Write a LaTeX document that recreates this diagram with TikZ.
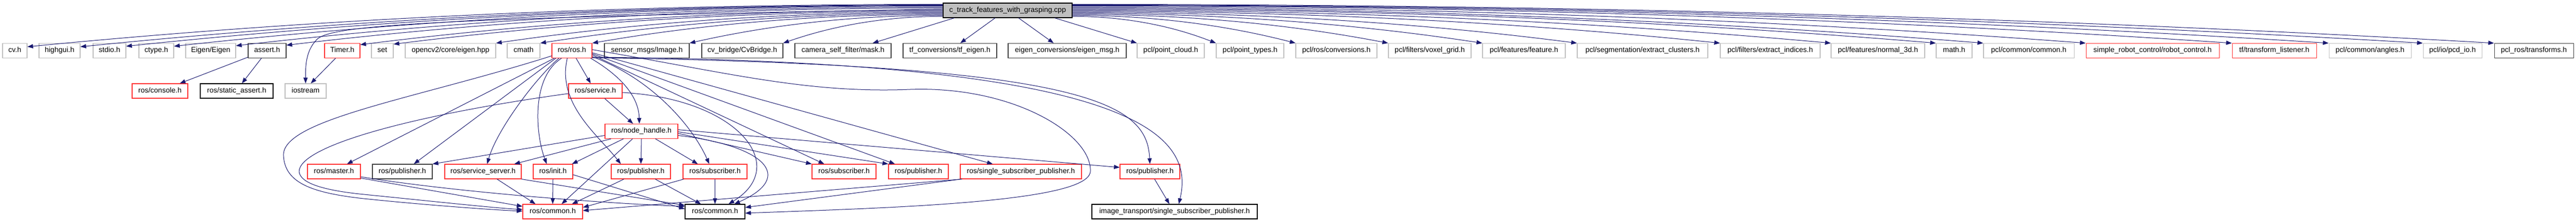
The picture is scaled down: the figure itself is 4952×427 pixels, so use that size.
\documentclass[tikz,border=0pt]{standalone}
\usepackage{fontspec}
\setmainfont{Liberation Sans}
\usetikzlibrary{arrows.meta,calc}
\definecolor{edgec}{HTML}{191970}
\definecolor{greyb}{HTML}{BFBFBF}
\definecolor{darkb}{HTML}{404040}
\definecolor{redb}{HTML}{FF3333}
\begin{document}
\begin{tikzpicture}[x=1pt,y=-1pt,font=\fontsize{14}{16}\selectfont,
  nbox/.style={draw,rectangle,minimum height=28pt,inner sep=0pt,line width=1.1pt,text height=10pt,text depth=3pt,fill=white},
  gbox/.style={nbox,draw=greyb},
  dbox/.style={nbox,draw=darkb},
  bbox/.style={nbox,draw=black},
  rbox/.style={nbox,draw=redb},
  arr/.style={draw=edgec,line width=1pt,-{Triangle[length=11pt,width=8pt]}}]
\fill[white] (0,0) rectangle (4952,427);
\useasboundingbox (0,0) rectangle (4952,427);
% root
\node[nbox,fill=greyb,draw=black,minimum width=248pt] (root) at (1937,20) {c\_track\_features\_with\_grasping.cpp};
% row 1
\node[gbox,minimum width=47pt] (cvh) at (28.5,97.5) {cv.h};
\node[gbox,minimum width=79pt] (highgui) at (114.5,97.5) {highgui.h};
\node[gbox,minimum width=63pt] (stdio) at (210.5,97.5) {stdio.h};
\node[gbox,minimum width=67pt] (ctype) at (300.5,97.5) {ctype.h};
\node[gbox,minimum width=96pt] (eigen) at (405,97.5) {Eigen/Eigen};
\node[dbox,minimum width=73pt] (assert) at (513.5,97.5) {assert.h};
\node[rbox,minimum width=68pt] (timer) at (658,97.5) {Timer.h};
\node[gbox,minimum width=42pt] (set) at (735,97.5) {set};
\node[gbox,minimum width=174pt] (cveigen) at (866,97.5) {opencv2/core/eigen.hpp};
\node[gbox,minimum width=63pt] (cmath) at (1006.5,97.5) {cmath};
\node[rbox,minimum width=77pt] (rosros) at (1099.5,97.5) {ros/ros.h};
\node[dbox,minimum width=163pt] (sensor) at (1243.5,97.5) {sensor\_msgs/Image.h};
\node[dbox,minimum width=156pt] (cvbridge) at (1427,97.5) {cv\_bridge/CvBridge.h};
\node[dbox,minimum width=185pt] (mask) at (1620.5,97.5) {camera\_self\_filter/mask.h};
\node[dbox,minimum width=180pt] (tfeigen) at (1826,97.5) {tf\_conversions/tf\_eigen.h};
\node[dbox,minimum width=227pt] (eigenmsg) at (2051.5,97.5) {eigen\_conversions/eigen\_msg.h};
\node[gbox,minimum width=129pt] (pointcloud) at (2250.5,97.5) {pcl/point\_cloud.h};
\node[gbox,minimum width=130pt] (pointtypes) at (2403,97.5) {pcl/point\_types.h};
\node[gbox,minimum width=156pt] (conversions) at (2569,97.5) {pcl/ros/conversions.h};
\node[gbox,minimum width=159pt] (voxel) at (2748.5,97.5) {pcl/filters/voxel\_grid.h};
\node[gbox,minimum width=159pt] (feature) at (2929.5,97.5) {pcl/features/feature.h};
\node[gbox,minimum width=251pt] (clusters) at (3157.5,97.5) {pcl/segmentation/extract\_clusters.h};
\node[gbox,minimum width=192pt] (indices) at (3403,97.5) {pcl/filters/extract\_indices.h};
\node[gbox,minimum width=180pt] (normal) at (3610,97.5) {pcl/features/normal\_3d.h};
\node[gbox,minimum width=69pt] (math) at (3756.5,97.5) {math.h};
\node[gbox,minimum width=174pt] (common) at (3900,97.5) {pcl/common/common.h};
\node[rbox,minimum width=256pt] (robot) at (4138,97.5) {simple\_robot\_control/robot\_control.h};
\node[rbox,minimum width=162pt] (listener) at (4372,97.5) {tf/transform\_listener.h};
\node[gbox,minimum width=158pt] (angles) at (4556,97.5) {pcl/common/angles.h};
\node[gbox,minimum width=113pt] (pcdio) at (4714.5,97.5) {pcl/io/pcd\_io.h};
\node[dbox,minimum width=152pt] (transforms) at (4871,97.5) {pcl\_ros/transforms.h};
% row 2
\node[rbox,minimum width=107pt] (console) at (307.5,175) {ros/console.h};
\node[bbox,minimum width=140pt] (staticassert) at (455,175) {ros/static\_assert.h};
\node[gbox,minimum width=79pt] (iostream) at (587.5,175) {iostream};
\node[rbox,minimum width=103pt] (service) at (1144.5,175) {ros/service.h};
% row 3
\node[rbox,minimum width=140pt] (nodehandle) at (1233,252.5) {ros/node\_handle.h};
% row 4
\node[rbox,minimum width=102pt] (master) at (642,330) {ros/master.h};
\node[dbox,minimum width=115pt] (pubdark) at (773.5,330) {ros/publisher.h};
\node[rbox,minimum width=147pt] (servsrv) at (928.5,330) {ros/service\_server.h};
\node[rbox,minimum width=76pt] (init) at (1063,330) {ros/init.h};
\node[rbox,minimum width=114pt] (pub1) at (1232,330) {ros/publisher.h};
\node[rbox,minimum width=123pt] (sub1) at (1374.5,330) {ros/subscriber.h};
\node[rbox,minimum width=123pt] (sub2) at (1622.5,330) {ros/subscriber.h};
\node[rbox,minimum width=115pt] (pub2) at (1765.5,330) {ros/publisher.h};
\node[rbox,minimum width=233pt] (ssp) at (1962.5,330) {ros/single\_subscriber\_publisher.h};
\node[rbox,minimum width=115pt] (pub3) at (2210.5,330) {ros/publisher.h};
% row 5
\node[rbox,minimum width=115pt] (commonred) at (1062.5,407) {ros/common.h};
\node[bbox,minimum width=115pt] (commonblk) at (1374.5,407) {ros/common.h};
\node[bbox,minimum width=318pt] (imgtrans) at (2258,407) {image\_transport/single\_subscriber\_publisher.h};

% root -> left row 1
\draw[arr] ($(root.north west)+(0,3)$) .. controls +(-587,0) and +(587,-57) .. ($(cvh.north east)+(0,7)$);
\draw[arr] ($(root.north west)+(0,4)$) .. controls +(-553,0) and +(553,-56) .. ($(highgui.north east)+(0,7)$);
\draw[arr] ($(root.north west)+(0,5)$) .. controls +(-524,0) and +(524,-55) .. ($(stdio.north east)+(0,6)$);
\draw[arr] ($(root.north west)+(0,6)$) .. controls +(-493,0) and +(493,-54) .. ($(ctype.north east)+(0,6)$);
\draw[arr] ($(root.north west)+(0,8)$) .. controls +(-453,0) and +(453,-52) .. ($(eigen.north east)+(0,5)$);
\draw[arr] ($(root.north west)+(0,10)$) .. controls +(-421,0) and +(421,-50) .. ($(assert.north east)+(0,4)$);
\draw[arr] ($(root.north west)+(0,12)$) .. controls (800,35) and (640,50) .. (610,75) .. controls (590,95) and (587,120) .. (iostream.north);
\draw[arr] ($(root.north west)+(0,14)$) .. controls +(-374,0) and +(374,-47) .. ($(timer.north east)+(0,3)$);
\draw[arr] ($(root.north west)+(0,16)$) .. controls +(-352,0) and +(352,-44) .. ($(set.north east)+(0,2)$);
\draw[arr] ($(root.north west)+(0,18)$) .. controls +(-287,0) and +(287,-42) .. (cveigen.north east);
\draw[arr] ($(root.north west)+(0,20)$) .. controls +(-258,0) and +(258,-40) .. (cmath.north east);
\draw[arr] ($(root.north west)+(0,22)$) .. controls +(-225,0) and +(225,-39) .. (rosros.north east);
\draw[arr] ($(root.north west)+(0,24)$) .. controls +(-163,0) and +(163,-37) .. (sensor.north east);
\draw[arr] ($(root.north west)+(0,26)$) .. controls +(-103,0) and +(103,-36) .. (cvbridge.north east);
\draw[arr] ($(root.south west)+(22,0)$) -- ($(mask.north east)+(-36,0)$);
\draw[arr] ($(root.south)+(-24,0)$) -- ($(tfeigen.north)+(20,0)$);
\draw[arr] ($(root.south)+(21,0)$) -- ($(eigenmsg.north)+(-26,0)$);
% root -> right row 1
\draw[arr] ($(root.south east)+(-34,0)$) -- (pointcloud.north west);
\draw[arr] ($(root.north east)+(0,26)$) .. controls +(92,0) and +(-92,-36) .. (pointtypes.north west);
\draw[arr] ($(root.north east)+(0,24)$) .. controls +(143,0) and +(-143,-37) .. (conversions.north west);
\draw[arr] ($(root.north east)+(0,22)$) .. controls +(203,0) and +(-203,-39) .. (voxel.north west);
\draw[arr] ($(root.north east)+(0,20)$) .. controls +(263,0) and +(-263,-40) .. (feature.north west);
\draw[arr] ($(root.north east)+(0,18)$) .. controls +(324,0) and +(-324,-42) .. (clusters.north west);
\draw[arr] ($(root.north east)+(0,16)$) .. controls +(415,0) and +(-415,-43) .. (indices.north west);
\draw[arr] ($(root.north east)+(0,14)$) .. controls +(486,0) and +(-486,-44) .. (normal.north west);
\draw[arr] ($(root.north east)+(0,12)$) .. controls +(554,0) and +(-554,-46) .. (math.north west);
\draw[arr] ($(root.north east)+(0,10)$) .. controls +(584,0) and +(-584,-47) .. (common.north west);
\draw[arr] ($(root.north east)+(0,8)$) .. controls +(650,0) and +(-650,-49) .. (robot.north west);
\draw[arr] ($(root.north east)+(0,6)$) .. controls +(743,0) and +(-743,-50) .. (listener.north west);
\draw[arr] ($(root.north east)+(0,5)$) .. controls +(805,0) and +(-805,-51) .. (angles.north west);
\draw[arr] ($(root.north east)+(0,4)$) .. controls +(866,0) and +(-866,-51) .. (pcdio.north west);
\draw[arr] ($(root.north east)+(0,3)$) .. controls +(911,0) and +(-911,-52) .. (transforms.north west);
% assert, timer
\draw[arr] ($(assert.south west)+(0,-2)$) -- ($(console.north east)+(-16,0)$);
\draw[arr] ($(assert.south)+(-11,0)$) -- ($(staticassert.north)+(10,0)$);
\draw[arr] ($(timer.south)+(-13,0)$) -- ($(iostream.north)+(10,0)$);
% ros/ros.h
\draw[arr] ($(rosros.south west)+(5,0)$) -- ($(master.north)+(25,0)$);
\draw[arr] ($(rosros.south west)+(8,0)$) -- ($(pubdark.north)+(22,0)$);
\draw[arr] ($(rosros.south west)+(14,0)$) .. controls (1030,150) and (955,250) .. ($(servsrv.north)+(8,0)$);
\draw[arr] ($(rosros.south west)+(19,0)$) .. controls (1020,150) and (1030,260) .. ($(init.north)+(-12,0)$);
\draw[arr] ($(rosros.south)+(8,0)$) -- ($(service.north)+(-9,0)$);
\draw[arr] ($(rosros.south west)+(30,0)$) .. controls (1070,200) and (1150,260) .. ($(pub1.north west)+(19,0)$);
\draw[arr] ($(rosros.south east)+(-3,0)$) .. controls (1200,150) and (1228,190) .. ($(nodehandle.north)+(-4,0)$);
\draw[arr] ($(rosros.south east)+(0,-3)$) .. controls (1250,150) and (1330,240) .. ($(sub1.north)+(-11,0)$);
\draw[arr] ($(rosros.east)+(0,8)$) -- ($(sub2.north west)+(24,0)$);
\draw[arr] ($(rosros.east)+(0,6)$) -- ($(pub2.north west)+(13,0)$);
\draw[arr] ($(rosros.east)+(0,4)$) -- ($(ssp.north west)+(63,0)$);
\draw[arr] ($(rosros.south east)+(0,-1)$) .. controls (2100,125) and (2205,200) .. (pub3.north);
\draw[arr] ($(rosros.south east)+(0,-2)$) .. controls (2160,118) and (2300,250) .. ($(imgtrans.north)+(8,0)$);
\draw[arr] ($(rosros.west)+(0,10)$) .. controls (800,190) and (540,230) .. (545,300) .. controls (548,352) and (600,370) .. (690,381) .. controls (800,393) and (950,404) .. ($(commonred.west)+(0,-1)$);
\draw[arr] ($(rosros.east)+(0,-2)$) .. controls (1400,140) and (1550,180) .. (1750,172) .. controls (1950,165) and (2100,260) .. (2096,330) .. controls (2092,390) and (1700,400) .. ($(commonblk.east)+(0,3)$);
% ros/service.h
\draw[arr] ($(service.south)+(18,0)$) -- ($(nodehandle.north)+(-16,0)$);
\draw[arr] ($(service.west)+(0,5)$) .. controls (800,220) and (575,280) .. (575,330) .. controls (577,352) and (620,366) .. (700,374) .. controls (820,386) and (950,400) .. ($(commonred.west)+(0,-4)$);
\draw[arr] ($(service.east)+(0,3)$) .. controls (1420,190) and (1520,320) .. ($(commonblk.north)+(26,0)$);
% ros/node_handle.h
\draw[arr] ($(nodehandle.south west)+(12,0)$) -- ($(servsrv.north east)+(-14,0)$);
\draw[arr] ($(nodehandle.west)+(0,8)$) -- (pubdark.north east);
\draw[arr] ($(nodehandle.south west)+(36,0)$) -- ($(init.north east)+(-2,0)$);
\draw[arr] ($(nodehandle.south)+(-17,0)$) -- ($(commonred.north)+(17,0)$);
\draw[arr] (nodehandle.south) -- (pub1.north);
\draw[arr] ($(nodehandle.south)+(27,0)$) -- ($(sub1.north)+(-33,0)$);
\draw[arr] ($(nodehandle.east)+(0,8)$) .. controls (1470,280) and (1530,340) .. ($(commonblk.north)+(37,0)$);
\draw[arr] ($(nodehandle.east)+(0,4)$) -- (sub2.north west);
\draw[arr] ($(nodehandle.east)+(0,1)$) -- (pub2.north west);
\draw[arr] ($(nodehandle.east)+(0,-3)$) -- ($(pub3.west)+(0,-8)$);
% row 4 -> row 5
\draw[arr] ($(master.south east)+(0,-2)$) -- ($(commonred.west)+(0,-10)$);
\draw[arr] ($(master.east)+(0,10)$) .. controls +(150,25) and +(-200,-8) .. ($(commonblk.west)+(0,-10)$);
\draw[arr] ($(servsrv.south)+(27,0)$) -- ($(commonred.north west)+(25,0)$);
\draw[arr] (servsrv.south east) -- ($(commonblk.west)+(0,-12)$);
\draw[arr] (init.south) -- (commonred.north);
\draw[arr] ($(init.east)+(0,6)$) -- ($(commonblk.west)+(0,-5)$);
\draw[arr] ($(pub1.south west)+(25,0)$) -- ($(commonred.north east)+(-21,0)$);
\draw[arr] ($(pub1.south east)+(-30,0)$) -- ($(commonblk.north)+(-27,0)$);
\draw[arr] ($(sub1.south west)+(2,0)$) -- ($(commonred.east)+(0,-8)$);
\draw[arr] (sub1.south) -- (commonblk.north);
\draw[arr] ($(ssp.south west)+(4,0)$) -- ($(commonred.east)+(0,-2)$);
\draw[arr] ($(ssp.south west)+(2,0)$) -- ($(commonblk.east)+(0,-8)$);
\draw[arr] ($(pub3.south)+(9,0)$) -- ($(imgtrans.north)+(-10,0)$);
\end{tikzpicture}
\end{document}
